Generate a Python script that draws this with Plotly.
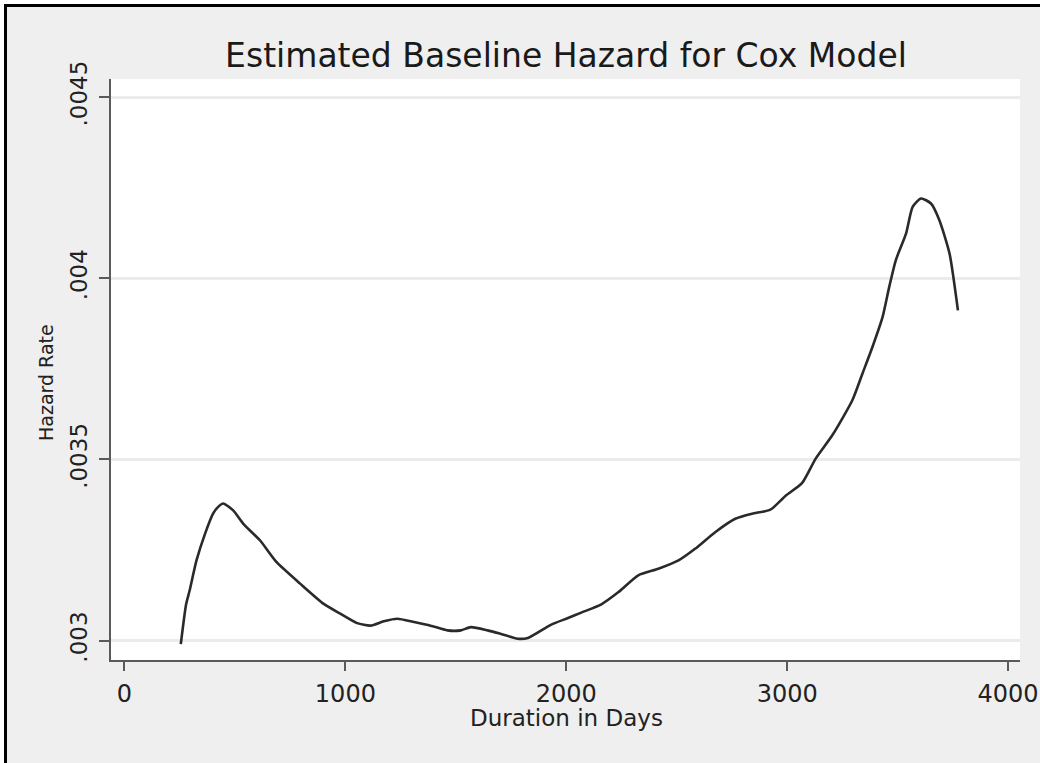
import plotly.graph_objects as go

# Data
days = [255, 279, 295, 326, 365, 401, 423, 447, 492, 538, 614, 689, 795, 902, 977,
        1053, 1114, 1174, 1235, 1311, 1386, 1462, 1523, 1568, 1644, 1705, 1780, 1826,
        1932, 2008, 2068, 2159, 2235, 2326, 2417, 2508, 2583, 2674, 2765, 2841, 2924,
        2992, 3068, 3129, 3205, 3295, 3341, 3386, 3432, 3462, 3492, 3538, 3568, 3606,
        3651, 3689, 3735, 3773]
hazard = [0.00299, 0.00310, 0.003138, 0.003221, 0.003295, 0.00335, 0.003368, 0.003378,
          0.003359, 0.003322, 0.003276, 0.003216, 0.003157, 0.003101, 0.003074,
          0.003048, 0.003041, 0.003053, 0.00306, 0.003051, 0.003041, 0.003028, 0.003028,
          0.003037, 0.003028, 0.003018, 0.003005, 0.003007,
          0.003044, 0.003062, 0.003077, 0.0031, 0.003133, 0.00318, 0.003198, 0.003221,
          0.003253, 0.003299, 0.003336, 0.00335, 0.003361,
          0.003399, 0.003435, 0.003502, 0.003567, 0.003663, 0.003737, 0.00381, 0.003893,
          0.003976, 0.00405, 0.004123, 0.004197, 0.00422,
          0.004206, 0.00416, 0.004068, 0.003911]

x_ticks = [0, 1000, 2000, 3000, 4000]
x_tick_labels = ["0", "1000", "2000", "3000", "4000"]
y_ticks = [0.003, 0.0035, 0.004, 0.0045]
y_tick_labels = [".003", ".0035", ".004", ".0045"]

title_text = "Estimated Baseline Hazard for Cox Model"
x_title = "Duration in Days"
y_title = "Hazard Rate"

W, H = 1040, 763
L, R, T, B = 111, 20, 79, 103
pw = W - L - R
ph = H - T - B

FONT = "DejaVu Sans"

fig = go.Figure()
fig.add_trace(go.Scatter(
    x=days, y=hazard, mode="lines",
    line=dict(color="#2a2a2a", width=2.6, shape="spline", smoothing=0.6),
    hoverinfo="skip", showlegend=False,
))

def px_x(p):
    return (p - L) / pw

def px_y(p):
    return 1 - (p - T) / ph

shapes = [
    # white strips outside the screenshot border
    dict(type="rect", xref="paper", yref="paper", x0=px_x(-5), x1=px_x(4), y0=px_y(H + 5), y1=px_y(-5),
         fillcolor="white", line=dict(width=0), layer="above"),
    dict(type="rect", xref="paper", yref="paper", x0=px_x(-5), x1=px_x(W + 5), y0=px_y(4), y1=px_y(-5),
         fillcolor="white", line=dict(width=0), layer="above"),
    # black border
    dict(type="line", xref="paper", yref="paper", x0=px_x(5.5), x1=px_x(5.5), y0=px_y(H + 5), y1=px_y(4),
         line=dict(color="black", width=3), layer="above"),
    dict(type="line", xref="paper", yref="paper", x0=px_x(4), x1=px_x(W + 5), y0=px_y(5.5), y1=px_y(5.5),
         line=dict(color="black", width=3), layer="above"),
]

fig.update_layout(
    width=W, height=H,
    margin=dict(l=L, r=R, t=T, b=B, pad=0, autoexpand=False),
    paper_bgcolor="#efefef",
    plot_bgcolor="white",
    font=dict(family=FONT, color="#222222"),
    title=dict(text=title_text, x=px_x(566), xref="paper", xanchor="center",
               y=1 - 55 / H, yref="container", yanchor="middle",
               font=dict(size=33, family=FONT, color="#1a1a1a")),
    shapes=shapes,
    annotations=[
        dict(text=x_title, xref="paper", yref="paper", x=px_x(566), y=px_y(718),
             xanchor="center", yanchor="middle", showarrow=False,
             font=dict(size=23, family=FONT, color="#222222")),
        dict(text=y_title, xref="paper", yref="paper", x=px_x(46), y=px_y(383),
             xanchor="center", yanchor="middle", showarrow=False, textangle=-90,
             font=dict(size=19, family=FONT, color="#222222")),
    ],
)

x0 = -61
x1 = 4054
fig.update_xaxes(
    range=[x0, x1], tickvals=x_ticks, ticktext=x_tick_labels,
    showgrid=False, zeroline=False, automargin=False,
    showline=True, linecolor="#5a5a5a", linewidth=2,
    ticks="outside", ticklen=9, tickwidth=2, tickcolor="#5a5a5a",
    tickfont=dict(size=24, family=FONT, color="#222222"),
    ticklabelstandoff=2,
)
fig.update_yaxes(
    range=[0.0029462, 0.0045497], tickvals=y_ticks, ticktext=y_tick_labels,
    showgrid=True, gridcolor="#ebebeb", gridwidth=2.5, zeroline=False, automargin=False,
    showline=True, linecolor="#5a5a5a", linewidth=2,
    ticks="outside", ticklen=10, tickwidth=2, tickcolor="#5a5a5a",
    tickangle=-90,
    tickfont=dict(size=23, family=FONT, color="#222222"),
    ticklabelstandoff=3,
)

fig.write_html("out.html")
